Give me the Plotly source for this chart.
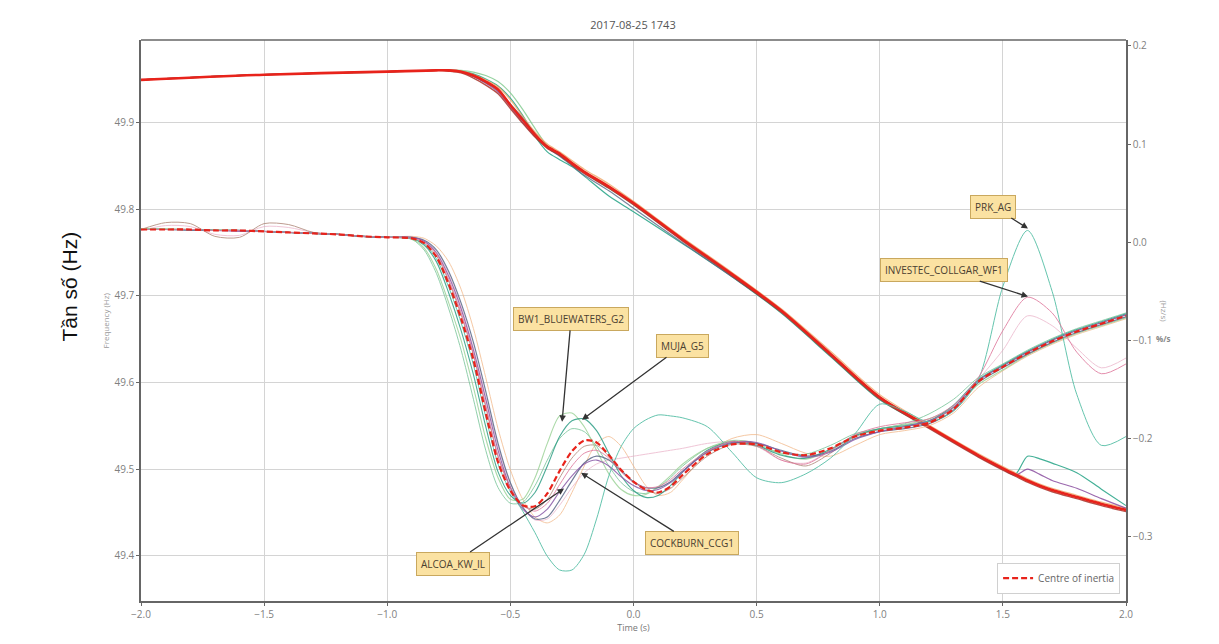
import plotly.graph_objects as go

# ---------------- data ----------------
# Frequency traces (left axis, Hz)
t_f = [-2.0, -1.5, -1.0, -0.8, -0.75, -0.7, -0.65, -0.6, -0.55, -0.5, -0.45, -0.4, -0.35, -0.3, -0.25,
       -0.2, -0.1, 0.0, 0.2, 0.4, 0.6, 0.8, 1.0, 1.2, 1.4, 1.5, 1.55, 1.6, 1.65, 1.7, 1.8, 1.9, 2.0]
f_main = [49.949, 49.955, 49.9585, 49.960, 49.960, 49.9585, 49.954, 49.947, 49.938, 49.920, 49.903, 49.886,
          49.872, 49.864, 49.853, 49.843, 49.826, 49.807, 49.765, 49.725, 49.683, 49.633, 49.583, 49.549,
          49.516, 49.501, 49.494, 49.487, 49.481, 49.476, 49.468, 49.460, 49.453]
f_teal = [49.949, 49.955, 49.958, 49.960, 49.960, 49.959, 49.956, 49.950, 49.942, 49.928, 49.908, 49.884,
          49.866, 49.857, 49.849, 49.838, 49.815, 49.797, 49.760, 49.722, 49.680, 49.630, 49.580, 49.548,
          49.515, 49.500, 49.494, 49.515, 49.512, 49.507, 49.496, 49.477, 49.458]
f_purple = [49.949, 49.955, 49.9585, 49.960, 49.960, 49.958, 49.953, 49.945, 49.935, 49.918, 49.900, 49.884,
            49.871, 49.862, 49.852, 49.842, 49.825, 49.806, 49.764, 49.724, 49.682, 49.632, 49.582, 49.548,
            49.515, 49.500, 49.493, 49.500, 49.494, 49.487, 49.478, 49.466, 49.455]
f_green = [49.949, 49.955, 49.9585, 49.960, 49.9605, 49.960, 49.958, 49.954, 49.947, 49.934, 49.915, 49.893,
           49.873, 49.862, 49.852, 49.842, 49.824, 49.805, 49.764, 49.724, 49.683, 49.633, 49.583, 49.549,
           49.516, 49.501, 49.494, 49.487, 49.481, 49.476, 49.468, 49.460, 49.453]
f_orange = [49.949, 49.955, 49.9585, 49.960, 49.960, 49.959, 49.955, 49.949, 49.941, 49.926, 49.907, 49.889,
            49.875, 49.866, 49.856, 49.846, 49.829, 49.809, 49.767, 49.727, 49.685, 49.636, 49.586, 49.551,
            49.518, 49.503, 49.496, 49.489, 49.483, 49.478, 49.470, 49.462, 49.455]
f_darkred = [49.949, 49.955, 49.9585, 49.960, 49.959, 49.957, 49.951, 49.943, 49.933, 49.916, 49.899, 49.883,
             49.870, 49.862, 49.851, 49.841, 49.824, 49.805, 49.763, 49.723, 49.681, 49.631, 49.581, 49.547,
             49.514, 49.499, 49.492, 49.485, 49.479, 49.474, 49.466, 49.458, 49.451]
f_slate = [49.949, 49.955, 49.9585, 49.960, 49.960, 49.9585, 49.953, 49.946, 49.937, 49.921, 49.905, 49.887,
           49.871, 49.861, 49.850, 49.839, 49.821, 49.801, 49.761, 49.722, 49.682, 49.633, 49.583, 49.549,
           49.516, 49.501, 49.494, 49.487, 49.481, 49.476, 49.468, 49.460, 49.453]

# Rate-of-change traces (right axis, Hz/s)
t_r = [-2.0, -1.9, -1.8, -1.7, -1.6, -1.5, -1.4, -1.3, -1.2, -1.1, -1.0,
       -0.9, -0.85, -0.8, -0.75, -0.7, -0.65, -0.6, -0.55, -0.5, -0.45, -0.4, -0.35, -0.3, -0.25, -0.2,
       -0.15, -0.1, -0.05, 0.0, 0.05, 0.1, 0.15, 0.2,
       0.3, 0.4, 0.5, 0.6, 0.7, 0.8, 0.9, 1.0, 1.1, 1.2, 1.3, 1.4, 1.5, 1.6, 1.7, 1.8, 1.9, 2.0]
coi = [0.013, 0.013, 0.013, 0.012, 0.012, 0.011, 0.010, 0.009, 0.008, 0.006, 0.005,
       0.004, -0.001, -0.015, -0.043, -0.078, -0.120, -0.174, -0.224, -0.253, -0.268, -0.269, -0.256, -0.233,
       -0.213, -0.202, -0.204, -0.217, -0.232, -0.244, -0.252, -0.255, -0.249, -0.237,
       -0.216, -0.206, -0.206, -0.214, -0.217, -0.210, -0.198, -0.192, -0.189, -0.184, -0.170, -0.142,
       -0.127, -0.113, -0.101, -0.091, -0.083, -0.075]
bw1_bluewaters_g2 = [0.014, 0.014, 0.013, 0.013, 0.012, 0.011, 0.010, 0.009, 0.008, 0.006, 0.005,
                     0.003, -0.006, -0.028, -0.062, -0.100, -0.148, -0.200, -0.240, -0.262, -0.262, -0.240,
                     -0.205, -0.177, -0.174, -0.188, -0.212, -0.236, -0.252, -0.258, -0.257, -0.249, -0.238,
                     -0.226, -0.210, -0.202, -0.205, -0.216, -0.221, -0.212, -0.197, -0.190, -0.186, -0.180,
                     -0.168, -0.145, -0.130, -0.115, -0.103, -0.093, -0.085, -0.077]
muja_g5 = [0.013, 0.013, 0.013, 0.012, 0.012, 0.011, 0.010, 0.009, 0.008, 0.006, 0.005,
           0.004, -0.003, -0.020, -0.052, -0.090, -0.135, -0.188, -0.234, -0.258, -0.266, -0.255, -0.228,
           -0.198, -0.182, -0.180, -0.192, -0.215, -0.238, -0.253, -0.260, -0.258, -0.248, -0.234,
           -0.212, -0.203, -0.207, -0.217, -0.220, -0.211, -0.197, -0.190, -0.187, -0.182, -0.166, -0.140,
           -0.125, -0.111, -0.099, -0.089, -0.081, -0.073]
alcoa_kw_il = [0.013, 0.013, 0.012, 0.012, 0.012, 0.011, 0.010, 0.009, 0.008, 0.006, 0.005,
               0.005, 0.002, -0.008, -0.030, -0.062, -0.102, -0.152, -0.205, -0.245, -0.270, -0.282, -0.280,
               -0.263, -0.243, -0.225, -0.218, -0.222, -0.233, -0.244, -0.250, -0.250, -0.244, -0.233,
               -0.214, -0.205, -0.205, -0.212, -0.218, -0.213, -0.200, -0.193, -0.190, -0.185, -0.171, -0.143,
               -0.128, -0.114, -0.102, -0.092, -0.084, -0.076]
cockburn_ccg1 = [0.013, 0.013, 0.013, 0.012, 0.011, 0.011, 0.010, 0.009, 0.008, 0.006, 0.005,
                 0.005, 0.001, -0.011, -0.035, -0.068, -0.110, -0.160, -0.212, -0.250, -0.272, -0.280, -0.272,
                 -0.254, -0.238, -0.226, -0.222, -0.228, -0.239, -0.248, -0.253, -0.252, -0.245, -0.234,
                 -0.213, -0.204, -0.204, -0.213, -0.219, -0.214, -0.201, -0.193, -0.188, -0.182, -0.168,
                 -0.141, -0.126, -0.112, -0.100, -0.090, -0.082, -0.074]
prk_ag = [0.013, 0.013, 0.013, 0.012, 0.012, 0.011, 0.010, 0.009, 0.008, 0.006, 0.005,
          0.004, -0.002, -0.017, -0.046, -0.082, -0.125, -0.178, -0.226, -0.254, -0.274, -0.296, -0.320,
          -0.334, -0.334, -0.318, -0.282, -0.238, -0.208, -0.190, -0.181, -0.176, -0.177, -0.179,
          -0.188, -0.214, -0.240, -0.245, -0.236, -0.220, -0.195, -0.165, -0.172, -0.183, -0.172, -0.140,
          -0.045, 0.012, -0.050, -0.155, -0.207, -0.198]
investec_collgar_wf1 = [0.013, 0.013, 0.013, 0.012, 0.012, 0.011, 0.010, 0.009, 0.008, 0.006, 0.005,
                        0.004, 0.000, -0.012, -0.038, -0.072, -0.114, -0.166, -0.218, -0.250, -0.268, -0.274,
                        -0.266, -0.247, -0.228, -0.215, -0.212, -0.220, -0.234, -0.245, -0.250, -0.249, -0.242,
                        -0.231, -0.213, -0.203, -0.207, -0.222, -0.226, -0.212, -0.196, -0.188, -0.184, -0.180,
                        -0.166, -0.138, -0.090, -0.056, -0.072, -0.112, -0.134, -0.124]
peach = [0.013, 0.013, 0.013, 0.012, 0.012, 0.011, 0.010, 0.009, 0.008, 0.006, 0.005,
         0.006, 0.004, -0.004, -0.020, -0.048, -0.088, -0.138, -0.190, -0.232, -0.262, -0.280, -0.286,
         -0.278, -0.255, -0.228, -0.205, -0.198, -0.208, -0.228, -0.248, -0.258, -0.255, -0.242,
         -0.215, -0.200, -0.196, -0.205, -0.215, -0.218, -0.207, -0.196, -0.192, -0.187, -0.174, -0.148,
         -0.131, -0.116, -0.104, -0.094, -0.086, -0.078]
pink_flat = [0.012, 0.017, 0.016, 0.008, 0.007, 0.016, 0.015, 0.010, 0.008, 0.006, 0.005,
             0.005, 0.001, -0.010, -0.033, -0.066, -0.108, -0.158, -0.208, -0.246, -0.270, -0.283, -0.282,
             -0.268, -0.250, -0.235, -0.226, -0.222, -0.220, -0.218, -0.216, -0.214, -0.212, -0.210,
             -0.205, -0.203, -0.208, -0.222, -0.225, -0.212, -0.198, -0.190, -0.186, -0.182, -0.168, -0.140,
             -0.110, -0.075, -0.085, -0.108, -0.128, -0.118]
brown_wiggle = [0.013, 0.020, 0.019, 0.006, 0.005, 0.019, 0.018, 0.010, 0.008, 0.006, 0.005,
                0.004, -0.001, -0.014, -0.040, -0.074, -0.115, -0.168, -0.218, -0.250, -0.268, -0.272, -0.262,
                -0.240, -0.220, -0.208, -0.207, -0.218, -0.232, -0.244, -0.252, -0.256, -0.251, -0.240,
                -0.218, -0.206, -0.208, -0.220, -0.228, -0.215, -0.198, -0.191, -0.188, -0.183, -0.169,
                -0.141, -0.126, -0.112, -0.100, -0.090, -0.082, -0.074]
green_lead = [0.013, 0.013, 0.013, 0.012, 0.012, 0.011, 0.010, 0.009, 0.008, 0.006, 0.005,
              0.003, -0.008, -0.032, -0.068, -0.110, -0.160, -0.212, -0.250, -0.266, -0.265, -0.248, -0.222,
              -0.200, -0.190, -0.193, -0.208, -0.228, -0.245, -0.254, -0.256, -0.250, -0.240, -0.228,
              -0.210, -0.204, -0.207, -0.215, -0.216, -0.207, -0.195, -0.190, -0.185, -0.175, -0.160, -0.138,
              -0.124, -0.110, -0.098, -0.088, -0.080, -0.072]

x_ticks = [-2.0, -1.5, -1.0, -0.5, 0.0, 0.5, 1.0, 1.5, 2.0]
y_ticks = [49.4, 49.5, 49.6, 49.7, 49.8, 49.9]
y2_ticks = [-0.3, -0.2, -0.1, 0.0, 0.1, 0.2]

# ---------------- figure ----------------
FONT = "Open Sans"
fig = go.Figure()

def add(x, y, color, width=1.0, opacity=0.85, axis="y", dash="solid", name=None, legend=False):
    fig.add_trace(go.Scatter(
        x=x, y=y, mode="lines", yaxis=axis, name=name or "", showlegend=legend, opacity=opacity,
        line=dict(color=color, width=width, dash=dash, shape="spline", smoothing=0.8),
        hoverinfo="skip"))

# frequency group
add(t_f, f_teal, "#2fa88c", 1.2, 0.9)
add(t_f, f_green, "#7cc98a", 1.2, 0.8)
add(t_f, f_orange, "#f0a868", 1.2, 0.8)
add(t_f, f_purple, "#8b4fa0", 1.2, 0.85)
add(t_f, f_slate, "#5a6a88", 1.2, 0.8)
add(t_f, f_darkred, "#a8322a", 1.4, 0.85)
add(t_f, f_main, "#e8231b", 2.6, 1.0)

# rate-of-change group
add(t_r, peach, "#f2b27e", 1.0, 0.7, "y2")
add(t_r, pink_flat, "#e7a1bd", 1.0, 0.6, "y2")
add(t_r, brown_wiggle, "#a87c6c", 1.0, 0.75, "y2")
add(t_r, green_lead, "#6cc090", 1.0, 0.75, "y2")
add(t_r, bw1_bluewaters_g2, "#9ed49a", 1.1, 0.85, "y2")
add(t_r, muja_g5, "#2e9e86", 1.1, 0.85, "y2")
add(t_r, alcoa_kw_il, "#5b6888", 1.2, 0.85, "y2")
add(t_r, cockburn_ccg1, "#8a5aa8", 1.1, 0.85, "y2")
add(t_r, prk_ag, "#55bfa6", 1.0, 0.9, "y2")
add(t_r, investec_collgar_wf1, "#e07a9e", 1.0, 0.85, "y2")
add(t_r, coi, "#e8231b", 2.2, 1.0, "y2", "6px,3px", "Centre of inertia", True)

axis_common = dict(
    showline=True, linecolor="#666", linewidth=1.5, mirror=False,
    ticks="outside", ticklen=3, tickcolor="#666",
    tickfont=dict(family=FONT, size=10, color="#808080"),
    zeroline=False,
)

fig.update_layout(
    width=1219, height=644,
    margin=dict(l=141, r=93, t=40, b=43),
    paper_bgcolor="white", plot_bgcolor="white",
    title=dict(text="2017-08-25 1743", x=633 / 1219, xanchor="center", y=1 - 25 / 644,
               yanchor="middle", font=dict(family=FONT, size=11, color="#555")),
    xaxis=dict(range=[-2.0, 2.0], tickvals=x_ticks, tickformat=".1f", showgrid=True,
               gridcolor="#d4d4d4", gridwidth=1,
               title=dict(text="Time (s)", font=dict(family=FONT, size=9, color="#777"), standoff=4),
               **axis_common),
    yaxis=dict(range=[49.348, 49.995], tickvals=y_ticks, tickformat=".1f", showgrid=True,
               gridcolor="#d4d4d4", gridwidth=1, **axis_common),
    yaxis2=dict(range=[-0.3656, 0.2061], tickvals=y2_ticks, tickformat=".1f", overlaying="y",
                side="right", showgrid=False, **axis_common),
    legend=dict(x=0.994, y=0.013, xanchor="right", yanchor="bottom", bgcolor="white",
                bordercolor="#d0d0d0", borderwidth=1, tracegroupgap=0,
                font=dict(family=FONT, size=10, color="#666")),
    showlegend=True,
)

# top spine
fig.add_shape(type="line", xref="paper", yref="paper", x0=0, x1=1, y0=1, y1=1,
              line=dict(color="#666", width=1.5))

# axis labels
fig.add_annotation(text="Tần số (Hz)", xref="paper", yref="paper", x=(55 - 141) / 985,
                   y=(601 - 287) / 561, showarrow=False, textangle=-90,
                   font=dict(family="Liberation Sans", size=21, color="#111"))
fig.add_annotation(text="Frequency (Hz)", xref="paper", yref="paper", x=(97 - 141) / 985,
                   y=(601 - 321) / 561, showarrow=False, textangle=-90,
                   font=dict(family=FONT, size=8, color="#999"))
fig.add_annotation(text="(Hz/s)", xref="paper", yref="paper", x=(1172 - 141) / 985,
                   y=(601 - 311) / 561, showarrow=False, textangle=90,
                   font=dict(family=FONT, size=8, color="#999"))
fig.add_annotation(text="<b>%/s</b>", xref="paper", yref="paper", x=(1173 - 141) / 985,
                   y=(601 - 338) / 561, showarrow=False,
                   font=dict(family=FONT, size=8, color="#888"))

# callouts
callouts = [
    ("BW1_BLUEWATERS_G2", -0.290, -0.183, 9, -103),
    ("MUJA_G5", -0.209, -0.181, 100, -74),
    ("ALCOA_KW_IL", -0.282, -0.251, -111, 75),
    ("COCKBURN_CCG1", -0.213, -0.235, 111, 70),
    ("PRK_AG", 1.602, 0.014, -35, -22),
    ("INVESTEC_COLLGAR_WF1", 1.602, -0.0554, -84, -27),
]
for text, x, y, ax, ay in callouts:
    fig.add_annotation(text=text, x=x, y=y, xref="x", yref="y2", ax=ax, ay=ay,
                       showarrow=True, arrowhead=2, arrowsize=1, arrowwidth=1.3, arrowcolor="#333",
                       bgcolor="#fbe2a2", bordercolor="#c9a85e", borderwidth=1, borderpad=4,
                       font=dict(family=FONT, size=10, color="#4a4030"))

fig.write_html("out.html", config={"displayModeBar": False},
               post_script="document.body.style.margin='0px';")
